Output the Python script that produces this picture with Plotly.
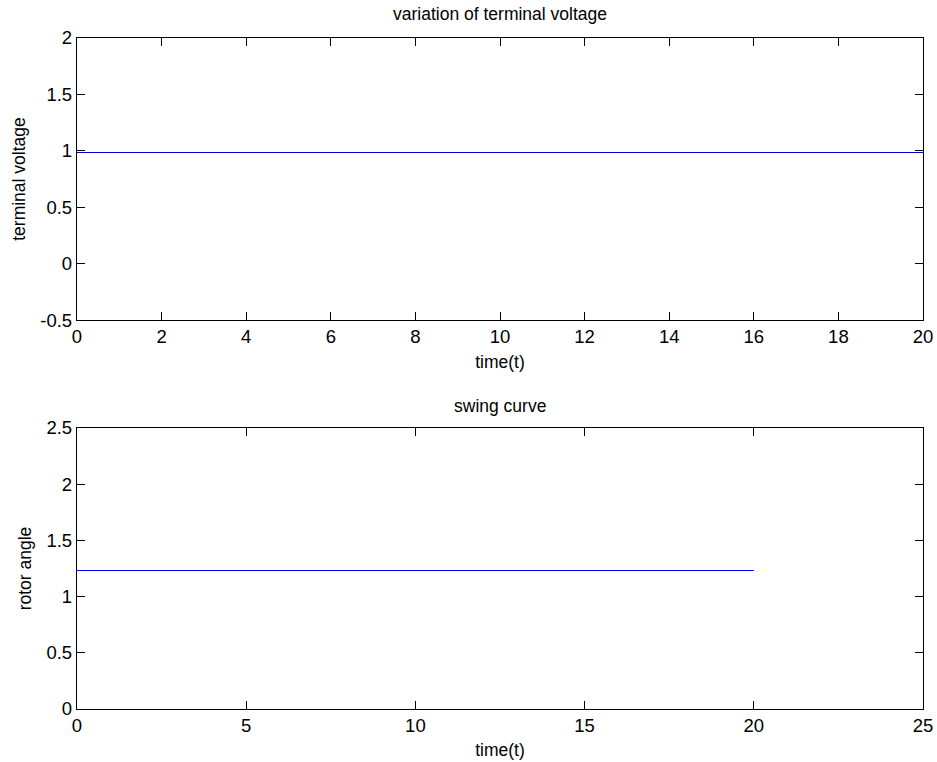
import plotly.graph_objects as go
from plotly.subplots import make_subplots

# Simulation samples (time in seconds)
time_t = [0, 2, 4, 6, 8, 10, 12, 14, 16, 18, 20]
terminal_voltage = [0.985, 0.985, 0.985, 0.985, 0.985, 0.985, 0.985, 0.985, 0.985, 0.985, 0.985]
rotor_angle = [1.232, 1.232, 1.232, 1.232, 1.232, 1.232, 1.232, 1.232, 1.232, 1.232, 1.232]

top_xticks = [0, 2, 4, 6, 8, 10, 12, 14, 16, 18, 20]
top_yticks = [-0.5, 0, 0.5, 1, 1.5, 2]
bot_xticks = [0, 5, 10, 15, 20, 25]
bot_yticks = [0, 0.5, 1, 1.5, 2, 2.5]

FONT = "Liberation Sans, Arial, sans-serif"
FS = 17.5
TICK_FS = 18.5

fig = make_subplots(rows=2, cols=1, vertical_spacing=0.0)

fig.add_trace(go.Scatter(x=time_t, y=terminal_voltage, mode="lines",
                         line=dict(color="#0000c8", width=1.2), showlegend=False),
              row=1, col=1)
fig.add_trace(go.Scatter(x=time_t, y=rotor_angle, mode="lines",
                         line=dict(color="#0000ff", width=1), showlegend=False),
              row=2, col=1)

axis_common = dict(
    showgrid=False, zeroline=False, showline=True, linecolor="black", linewidth=1.3,
    mirror="ticks", ticks="inside", ticklen=8, tickwidth=1, tickcolor="black",
    tickfont=dict(family=FONT, size=TICK_FS, color="black"), automargin=False,
)

fig.update_xaxes(**axis_common)
fig.update_yaxes(**axis_common)

title_font = dict(family=FONT, size=FS, color="black")

fig.update_xaxes(range=[0, 20], tickvals=top_xticks, ticktext=[str(v) for v in top_xticks],
                 domain=[0, 1], row=1, col=1,
                 title=dict(text="time(t)", font=title_font, standoff=9))
fig.update_yaxes(range=[-0.5, 2], tickvals=top_yticks, ticktext=["-0.5", "0", "0.5", "1", "1.5", "2"],
                 domain=[0.5797, 1], row=1, col=1,
                 title=dict(text="terminal voltage", font=title_font, standoff=10))
fig.update_xaxes(range=[0, 25], tickvals=bot_xticks, ticktext=[str(v) for v in bot_xticks],
                 domain=[0, 1], row=2, col=1,
                 title=dict(text="time(t)", font=title_font, standoff=8))
fig.update_yaxes(range=[0, 2.5], tickvals=bot_yticks, ticktext=["0", "0.5", "1", "1.5", "2", "2.5"],
                 domain=[0, 0.4188], row=2, col=1,
                 title=dict(text="rotor angle", font=title_font, standoff=10))

fig.add_annotation(text="variation of terminal voltage", xref="paper", yref="paper",
                   x=0.5, y=1, xanchor="center", yanchor="bottom", yshift=12, showarrow=False,
                   font=title_font)
fig.add_annotation(text="swing curve", xref="paper", yref="paper",
                   x=0.5, y=0.4188, xanchor="center", yanchor="bottom", yshift=10, showarrow=False,
                   font=title_font)

fig.update_layout(
    width=937, height=762,
    margin=dict(l=77, r=14, t=38, b=53),
    paper_bgcolor="white", plot_bgcolor="white",
    font=dict(family=FONT, size=FS, color="black"),
)

fig.write_html("out.html")
